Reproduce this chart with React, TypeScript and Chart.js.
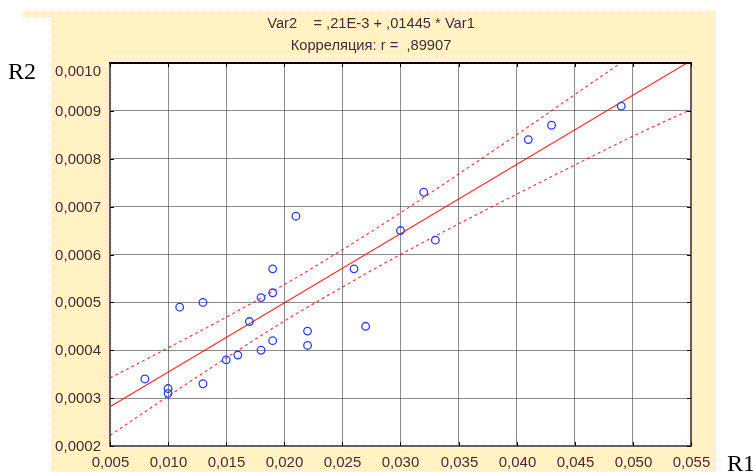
import React, { useEffect, useRef } from "react";
import { Chart, registerables } from "chart.js";

Chart.register(...registerables);

// ---- Data ----
const r1Values = [0.008, 0.010, 0.010, 0.011, 0.013, 0.013, 0.015, 0.016, 0.017, 0.018, 0.018, 0.019, 0.019, 0.019, 0.021, 0.022, 0.022, 0.026, 0.027, 0.030, 0.032, 0.033, 0.041, 0.043, 0.049];
const r2Values = [0.00034, 0.00032, 0.00031, 0.00049, 0.00050, 0.00033, 0.00038, 0.00039, 0.00046, 0.00051, 0.00040, 0.00057, 0.00052, 0.00042, 0.00068, 0.00044, 0.00041, 0.00057, 0.00045, 0.00065, 0.00073, 0.00063, 0.00084, 0.00087, 0.00091];

const fitX = [0.005, 0.055];
const fitY = [0.000282, 0.001005];

const bandX = [0.005, 0.010, 0.015, 0.020, 0.025, 0.030, 0.035, 0.040, 0.045, 0.050, 0.055];
const upperY = [0.000342, 0.000405, 0.000469, 0.000537, 0.000610, 0.000687, 0.000768, 0.000850, 0.000934, 0.001018, 0.001105];
const lowerY = [0.000222, 0.000304, 0.000384, 0.000461, 0.000532, 0.000600, 0.000664, 0.000726, 0.000787, 0.000847, 0.000903];

const titleLines = ["Var2    = ,21E-3 + ,01445 * Var1", "Корреляция: r =  ,89907"];
const xAxisName = "R1";
const yAxisName = "R2";

const xMin = 0.005, xMax = 0.055, xStep = 0.005;
const yMin = 0.0002, yMax = 0.0010, yStep = 0.0001;

const SANS = "'Liberation Sans', Arial, sans-serif";
const SERIF = "'Liberation Serif', 'Times New Roman', serif";

function makePattern(ctx: CanvasRenderingContext2D) {
  const c = document.createElement("canvas");
  c.width = 4;
  c.height = 4;
  const p = c.getContext("2d")!;
  p.fillStyle = "#ffffff";
  p.fillRect(0, 0, 4, 4);
  const px = (x: number, y: number, col: string) => {
    p.fillStyle = col;
    p.fillRect(x, y, 1, 1);
  };
  px(0, 0, "#f9d4c8");
  px(2, 0, "#fcecb4");
  px(1, 1, "#fef6dc");
  px(3, 1, "#fcecb4");
  px(0, 2, "#fcecb4");
  px(2, 2, "#f9d4c8");
  px(1, 3, "#fcecb4");
  px(3, 3, "#fef6dc");
  return ctx.createPattern(c, "repeat")!;
}

const decorPlugin = {
  id: "decor",
  beforeDraw(chart: any) {
    const ctx: CanvasRenderingContext2D = chart.ctx;
    const { left, top, right, bottom } = chart.chartArea;
    ctx.save();
    ctx.fillStyle = "#ffffff";
    ctx.fillRect(0, 0, chart.width, chart.height);
    const pat = makePattern(ctx);
    ctx.fillStyle = pat;
    ctx.fillRect(22, 11, 694, 7);
    ctx.fillRect(51, 18, 665, chart.height - 18);
    ctx.fillStyle = "#ffffff";
    ctx.fillRect(left, top, right - left, bottom - top);

    // title
    ctx.fillStyle = "#333333";
    ctx.font = `14.7px ${SANS}`;
    ctx.textAlign = "center";
    ctx.textBaseline = "alphabetic";
    ctx.fillText(titleLines[0], 371, 28);
    ctx.fillText(titleLines[1], 371, 50);

    // axis names
    ctx.fillStyle = "#000000";
    ctx.font = `24px ${SERIF}`;
    ctx.textAlign = "left";
    ctx.fillText(yAxisName, 8, 79);
    ctx.fillText(xAxisName, 727, 471);
    ctx.restore();
  },
  afterDraw(chart: any) {
    const ctx: CanvasRenderingContext2D = chart.ctx;
    const { left, top, right, bottom } = chart.chartArea;
    const xs = chart.scales.x;
    const ys = chart.scales.y;
    ctx.save();
    // borders
    ctx.lineWidth = 2;
    ctx.strokeStyle = "#606060";
    ctx.beginPath();
    ctx.moveTo(left, top);
    ctx.lineTo(left, bottom);
    ctx.lineTo(right, bottom);
    ctx.lineTo(right, top);
    ctx.stroke();
    ctx.strokeStyle = "#000000";
    ctx.beginPath();
    ctx.moveTo(left - 1, top);
    ctx.lineTo(right + 1, top);
    ctx.stroke();

    // inward ticks + labels
    ctx.lineWidth = 1;
    ctx.strokeStyle = "#000000";
    ctx.fillStyle = "#333333";
    ctx.font = `15px ${SANS}`;
    ctx.textAlign = "right";
    ctx.textBaseline = "middle";
    ys.ticks.forEach((t: any) => {
      const y = Math.round(ys.getPixelForValue(t.value)) + 0.5;
      ctx.beginPath();
      ctx.moveTo(left, y);
      ctx.lineTo(left + 4, y);
      ctx.moveTo(right, y);
      ctx.lineTo(right - 4, y);
      ctx.stroke();
      const ly = Math.max(y, top + 9);
      ctx.fillText(t.value.toFixed(4).replace(".", ","), left - 9, ly);
    });
    ctx.textAlign = "center";
    ctx.textBaseline = "alphabetic";
    xs.ticks.forEach((t: any) => {
      const x = Math.round(xs.getPixelForValue(t.value)) + 0.5;
      ctx.beginPath();
      ctx.moveTo(x, bottom);
      ctx.lineTo(x, bottom - 4);
      ctx.moveTo(x, top);
      ctx.lineTo(x, top + 4);
      ctx.stroke();
      ctx.fillText(t.value.toFixed(3).replace(".", ","), x, bottom + 21);
    });
    ctx.restore();
  },
};

export default function App() {
  const ref = useRef<HTMLCanvasElement | null>(null);

  useEffect(() => {
    document.body.style.margin = "0";
    const canvas = ref.current!;
    const chart = new Chart(canvas, {
      type: "scatter",
      data: {
        datasets: [
          {
            type: "line",
            data: fitX.map((x, i) => ({ x, y: fitY[i] })),
            borderColor: "rgba(255,0,0,0.8)",
            borderWidth: 1.2,
            pointRadius: 0,
            fill: false,
            order: 2,
          } as any,
          {
            type: "line",
            data: bandX.map((x, i) => ({ x, y: upperY[i] })),
            borderColor: "rgba(255,0,0,0.75)",
            borderWidth: 1.2,
            borderDash: [3, 3],
            pointRadius: 0,
            cubicInterpolationMode: "monotone",
            fill: false,
            order: 2,
          } as any,
          {
            type: "line",
            data: bandX.map((x, i) => ({ x, y: lowerY[i] })),
            borderColor: "rgba(255,0,0,0.75)",
            borderWidth: 1.2,
            borderDash: [3, 3],
            pointRadius: 0,
            cubicInterpolationMode: "monotone",
            fill: false,
            order: 2,
          } as any,
          {
            type: "scatter",
            data: r1Values.map((x, i) => ({ x, y: r2Values[i] })),
            borderColor: "#2a3cff",
            backgroundColor: "rgba(0,0,0,0)",
            borderWidth: 1.3,
            pointRadius: 3.8,
            pointStyle: "circle",
            order: 1,
          } as any,
        ],
      },
      options: {
        animation: false,
        responsive: false,
        maintainAspectRatio: false,
        devicePixelRatio: 1,
        layout: { padding: { left: 110, top: 63, right: 62, bottom: 26 } },
        plugins: {
          legend: { display: false },
          tooltip: { enabled: false },
          title: { display: false },
        },
        scales: {
          x: {
            type: "linear",
            min: xMin,
            max: xMax,
            ticks: { display: false, stepSize: xStep },
            border: { display: false },
            grid: {
              color: "rgba(0,0,0,0.45)",
              borderDash: [1, 1],
              drawTicks: false,
              lineWidth: 1,
            } as any,
            afterFit: (s: any) => {
              s.height = 0;
            },
          },
          y: {
            type: "linear",
            min: yMin,
            max: yMax,
            ticks: { display: false, stepSize: yStep },
            border: { display: false },
            grid: {
              color: "rgba(0,0,0,0.45)",
              borderDash: [1, 1],
              drawTicks: false,
              lineWidth: 1,
            } as any,
            afterFit: (s: any) => {
              s.width = 0;
            },
          },
        },
      },
      plugins: [decorPlugin],
    });
    return () => chart.destroy();
  }, []);

  return <canvas ref={ref} width={753} height={472} style={{ display: "block", width: 753, height: 472 }} />;
}
